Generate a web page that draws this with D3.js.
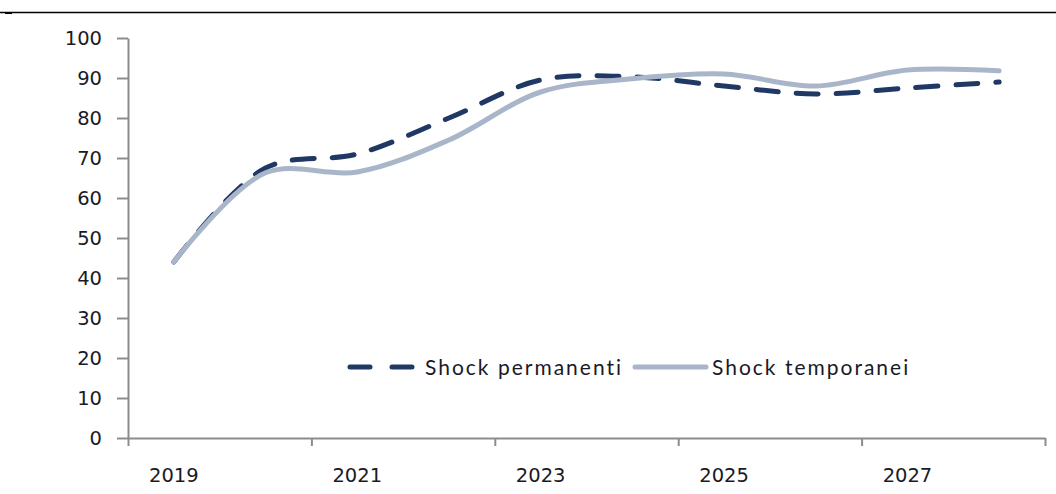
<!DOCTYPE html>
<html>
<head>
<meta charset="utf-8">
<script src="https://cdn.jsdelivr.net/npm/d3@7"></script>
<style>
  body { margin: 0; background: #fff; }
  svg { display: block; }
</style>
</head>
<body>
<div id="chart"></div>
<script>
// data
const years = [2019, 2020, 2021, 2022, 2023, 2024, 2025, 2026, 2027, 2028];
const permanenti = [44, 67.5, 71, 80, 89.5, 90.3, 88, 86, 87.5, 89];
const temporanei = [44, 66.3, 66.5, 74.5, 86.5, 89.8, 91, 88, 92, 91.8];
const yTicks = [0, 10, 20, 30, 40, 50, 60, 70, 80, 90, 100];
const xLabels = [2019, 2021, 2023, 2025, 2027];

const legendData = [
  { key: "perm", label: "Shock permanenti", color: "#1f3864", dash: "22,18", width: 5 },
  { key: "temp", label: "Shock temporanei", color: "#a9b6ca", dash: null, width: 5 }
];

const W = 1056, H = 494;
const svg = d3.select("#chart").append("svg")
  .attr("width", W)
  .attr("height", H);

// thin rule at the top of the figure
svg.append("line")
  .attr("x1", 0).attr("x2", W)
  .attr("y1", 12.5).attr("y2", 12.5)
  .attr("stroke", "#000")
  .attr("stroke-width", 1.3);
svg.append("rect")
  .attr("x", 5).attr("y", 12)
  .attr("width", 7).attr("height", 2)
  .attr("fill", "#000");

const plotLeft = 128, plotRight = 1045, plotTop = 38, plotBottom = 438;

const x = d3.scaleBand()
  .domain(years)
  .range([plotLeft, plotRight]);

const xi = d3.scaleLinear()
  .domain([0, years.length])
  .range([plotLeft, plotRight]);

const y = d3.scaleLinear()
  .domain([0, 100])
  .range([plotBottom, plotTop]);

const axisColor = "#8c8c8c";
const labelFont = "'DejaVu Sans', Verdana, sans-serif";

// y axis
const yAxis = svg.append("g")
  .attr("transform", `translate(${plotLeft},0)`)
  .call(d3.axisLeft(y).tickValues(yTicks).tickSize(11).tickPadding(15).tickSizeOuter(0));
yAxis.select(".domain").attr("stroke", axisColor).attr("stroke-width", 2);
yAxis.selectAll(".tick line").attr("stroke", axisColor).attr("stroke-width", 2);
yAxis.selectAll(".tick text")
  .attr("fill", "#1a1a26")
  .style("font-family", labelFont)
  .style("font-size", "19.5px");

// x axis: ticks on category boundaries, every second year
const xAxis = svg.append("g")
  .attr("transform", `translate(0,${plotBottom})`)
  .call(d3.axisBottom(xi).tickValues([0, 2, 4, 6, 8, 10]).tickSize(8).tickFormat("").tickSizeOuter(0));
xAxis.select(".domain").attr("stroke", axisColor).attr("stroke-width", 2);
xAxis.selectAll(".tick line").attr("stroke", axisColor).attr("stroke-width", 2);

svg.selectAll(".xlabel")
  .data(xLabels)
  .enter()
  .append("text")
  .attr("class", "xlabel")
  .attr("x", d => x(d) + x.bandwidth() / 2)
  .attr("y", 482)
  .attr("text-anchor", "middle")
  .attr("fill", "#1a1a26")
  .style("font-family", labelFont)
  .style("font-size", "19.5px")
  .text(d => d);

// lines (the light series sits on top, as in the original)
const series = {
  perm: permanenti,
  temp: temporanei
};

const line = d3.line()
  .x((d, i) => x(years[i]) + x.bandwidth() / 2)
  .y(d => y(d))
  .curve(d3.curveCatmullRom.alpha(0.5));

["perm", "temp"].forEach(key => {
  const l = legendData.find(d => d.key === key);
  svg.append("path")
    .datum(series[key])
    .attr("fill", "none")
    .attr("stroke", l.color)
    .attr("stroke-width", l.width)
    .attr("stroke-linecap", "round")
    .attr("stroke-dasharray", l.dash)
    .attr("d", line);
});

// legend
const legendPos = [
  { lx1: 350, lx2: 412, tx: 425 },
  { lx1: 635, lx2: 706, tx: 712 }
];
legendData.forEach((l, i) => {
  const p = legendPos[i];
  svg.append("line")
    .attr("x1", p.lx1).attr("x2", p.lx2)
    .attr("y1", 367).attr("y2", 367)
    .attr("stroke", l.color)
    .attr("stroke-width", l.width)
    .attr("stroke-linecap", "round")
    .attr("stroke-dasharray", l.dash ? "20,22" : null);
  svg.append("text")
    .attr("x", p.tx)
    .attr("y", 375)
    .attr("fill", "#1a1a26")
    .style("font-family", "Lato, 'Open Sans', sans-serif")
    .style("font-size", "21px")
    .style("letter-spacing", "2px")
    .text(l.label);
});
</script>
</body>
</html>
